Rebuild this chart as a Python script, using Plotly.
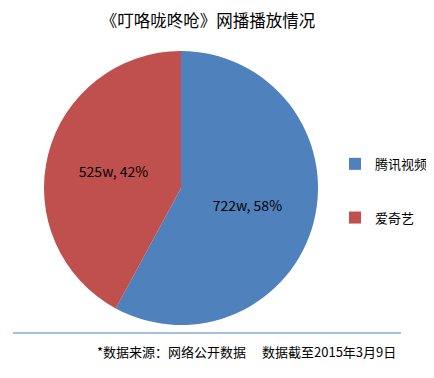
import plotly.graph_objects as go

labels = ["腾讯视频", "爱奇艺"]
values = [722, 525]
value_text = ["722w", "525w"]
colors = ["#4F81BD", "#C0504D"]

title_text = "《叮咯咙咚呛》网播播放情况"
note_text = "*数据来源：网络公开数据　 数据截至2015年3月9日"

# page body has an 8px margin; size the figure to fill the rest of the window
OFF = 8
W, H = 434 - OFF, 378 - OFF


def px(x):
    return (x - OFF) / W


def py(y):
    return 1 - (y - OFF) / H


font_family = "Noto Sans CJK SC, Microsoft YaHei, sans-serif"

fig = go.Figure(go.Pie(
    labels=["<br>" + l + "<br>" for l in labels],
    values=values,
    text=value_text,
    texttemplate="%{text}, %{percent:.0%}",
    textposition="inside",
    insidetextorientation="horizontal",
    textfont=dict(family=font_family, size=14, color="#000000"),
    marker=dict(colors=colors, line=dict(width=0)),
    sort=False,
    direction="clockwise",
    rotation=0,
    domain=dict(x=[px(44), px(318)], y=[py(325), py(51)]),
    hoverinfo="value+percent",
))

fig.update_layout(
    width=W, height=H,
    margin=dict(l=0, r=0, t=0, b=0),
    paper_bgcolor="white",
    font=dict(family=font_family, size=12, color="#000000"),
    title=dict(text=title_text, x=px(208), xanchor="center", y=py(21), yanchor="middle",
               font=dict(size=16.5, family=font_family, color="#000000")),
    legend=dict(x=px(335), xanchor="left", y=py(191), yanchor="middle",
                font=dict(size=13, family=font_family), bgcolor="rgba(0,0,0,0)"),
    shapes=[dict(type="line", xref="paper", yref="paper", x0=px(13), x1=px(401),
                 y0=py(333), y1=py(333), line=dict(color="#4A7EBB", width=1))],
    annotations=[dict(text=note_text, xref="paper", yref="paper", x=px(398), xanchor="right",
                      y=py(351), yanchor="middle", showarrow=False,
                      font=dict(size=13, family=font_family, color="#000000"))],
)

fig.write_html("out.html")
